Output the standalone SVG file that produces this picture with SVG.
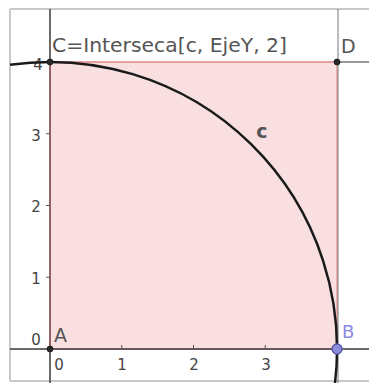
<svg xmlns="http://www.w3.org/2000/svg" width="369" height="383" viewBox="0 0 369 383">
<style>
.lbl{font-family:"DejaVu Sans","Liberation Sans",sans-serif;fill:#555}
.tick{font-family:"DejaVu Sans","Liberation Sans",sans-serif;font-size:15px;fill:#444}
.ax{stroke:#3a3a3a;stroke-width:1.5;fill:none}
.tk{stroke:#555;stroke-width:1}
.pt{fill:#2a2a2a;stroke:#111;stroke-width:0.8}
</style>
<rect x="0" y="0" width="369" height="383" fill="#ffffff"/>
<g id="frame" fill="none" stroke="#c9c9c9" stroke-width="2">
  <line x1="10" y1="9" x2="369" y2="9"/>
  <line x1="10" y1="9" x2="10" y2="381"/>
  <line x1="10" y1="381" x2="369" y2="381"/>
</g>
<g id="polygon">
  <rect x="50" y="62" width="287" height="287" fill="#f9dfdf" stroke="#e48a8a" stroke-width="1.2"/>
</g>
<g id="connectors">
  <line class="ax" x1="10" y1="349" x2="369" y2="349"/>
  <line class="ax" x1="50" y1="9" x2="50" y2="383"/>
  <line x1="338" y1="9" x2="338" y2="383" stroke="#777" stroke-width="1"/>
  <line x1="337" y1="62" x2="369" y2="62" stroke="#555" stroke-width="1.2"/>
  <line x1="50" y1="62" x2="337" y2="62" stroke="#e48a8a" stroke-width="1.2"/>
  <line x1="50" y1="62" x2="50" y2="349" stroke="#b06a6a" stroke-width="1.3"/>
  <g class="tk">
    <line x1="121.75" y1="345" x2="121.75" y2="349"/>
    <line x1="193.5" y1="345" x2="193.5" y2="349"/>
    <line x1="265.25" y1="345" x2="265.25" y2="349"/>
    <line x1="46" y1="277.25" x2="50" y2="277.25"/>
    <line x1="46" y1="205.5" x2="50" y2="205.5"/>
    <line x1="46" y1="133.75" x2="50" y2="133.75"/>
  </g>
</g>
<g id="axis-labels">
  <text class="tick" x="59" y="370" text-anchor="middle">0</text>
  <text class="tick" x="122" y="370" text-anchor="middle">1</text>
  <text class="tick" x="194" y="370" text-anchor="middle">2</text>
  <text class="tick" x="266" y="370" text-anchor="middle">3</text>
  <text class="tick" x="36" y="345" text-anchor="middle">0</text>
  <text class="tick" x="36" y="284" text-anchor="middle">1</text>
  <text class="tick" x="36" y="212" text-anchor="middle">2</text>
  <text class="tick" x="36" y="141" text-anchor="middle">3</text>
  <text class="tick" x="38" y="70" text-anchor="middle">4</text>
</g>
<g id="c">
  <path d="M 10 64.8 A 287 287 0 0 1 335 383" fill="none" stroke="#1a1a1a" stroke-width="2.5"/>
  <text class="lbl" x="262" y="138" text-anchor="middle" font-size="19" font-weight="bold" fill="#333">c</text>
</g>
<g id="C">
  <circle class="pt" cx="50" cy="62" r="3"/>
  <text class="lbl" x="52" y="52" font-size="20" textLength="235" lengthAdjust="spacingAndGlyphs">C=Interseca[c, EjeY, 2]</text>
</g>
<g id="D">
  <circle class="pt" cx="337" cy="62" r="3"/>
  <text class="lbl" x="341" y="53" font-size="19">D</text>
</g>
<g id="A">
  <circle class="pt" cx="50" cy="349" r="3"/>
  <text class="lbl" x="54" y="342" font-size="19">A</text>
</g>
<g id="B">
  <circle cx="337" cy="349" r="5" fill="#8c8cdc" stroke="#5a5aa8" stroke-width="1.5"/>
  <text class="lbl" x="342" y="338" font-size="18" fill="#8a8ae0" style="fill:#8a8ae0">B</text>
</g>
</svg>
